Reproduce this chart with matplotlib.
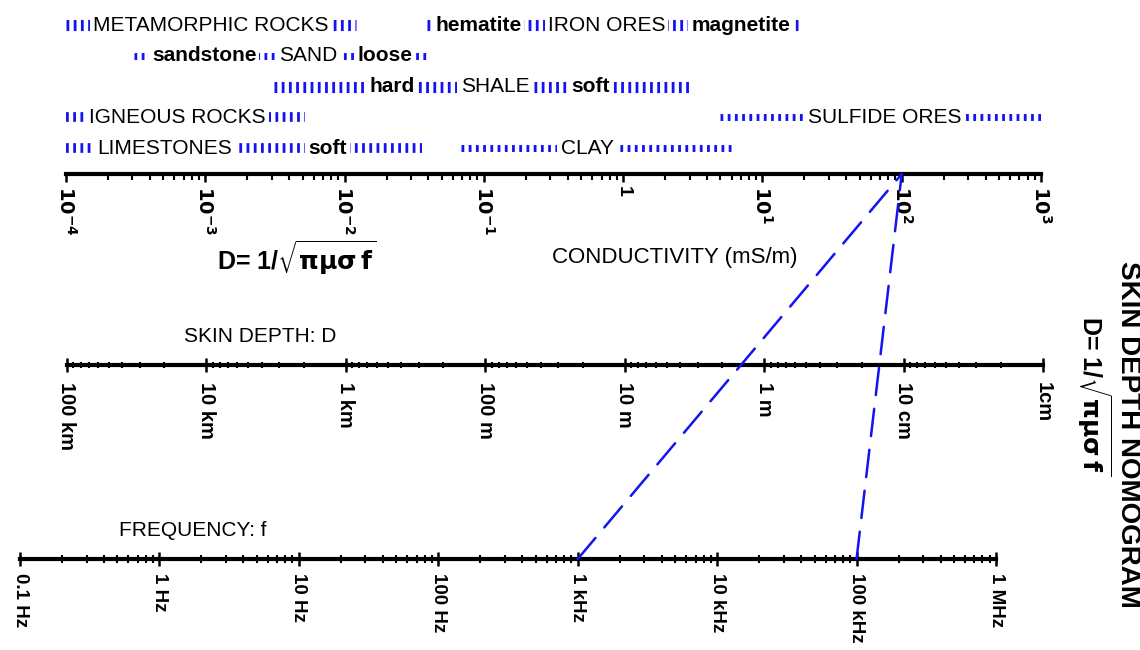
import matplotlib
matplotlib.use("Agg")
import matplotlib.pyplot as plt
from matplotlib.patches import ConnectionPatch
from matplotlib.ticker import LogLocator, NullFormatter

plt.rcParams["font.family"] = ["Liberation Sans", "DejaVu Sans"]
plt.rcParams["mathtext.fontset"] = "dejavusans"

BLUE = "#1414f0"

# conductivity scale, mS/m
cond_ticks = [1e-4, 1e-3, 1e-2, 1e-1, 1, 1e1, 1e2, 1e3]
cond_labels = [r"$\mathbf{10^{-4}}$", r"$\mathbf{10^{-3}}$", r"$\mathbf{10^{-2}}$",
               r"$\mathbf{10^{-1}}$", "1", r"$\mathbf{10^{1}}$", r"$\mathbf{10^{2}}$",
               r"$\mathbf{10^{3}}$"]

# skin depth scale, metres (large on the left)
depth_ticks = [1e5, 1e4, 1e3, 1e2, 1e1, 1, 1e-1, 1e-2]
depth_labels = ["100 km", "10 km", "1 km", "100 m", "10 m", "1 m", "10 cm", "1cm"]

# frequency scale, Hz
freq_ticks = [1e-1, 1, 1e1, 1e2, 1e3, 1e4, 1e5, 1e6]
freq_labels = ["0.1 Hz", "1 Hz", "10 Hz", "100 Hz", "1 kHz", "10 kHz", "100 kHz", "1 MHz"]

# material conductivity ranges (mS/m) and the row each one sits on
band_row = [0, 0, 1, 2, 3, 3, 4, 4]
band_low = [1e-4, 3.9e-2, 3.1e-4, 3.1e-3, 1e-4, 5.0, 1e-4, 6.8e-2]
band_high = [1.2e-2, 18.0, 4.0e-2, 3.0, 5.2e-3, 1e3, 3.6e-2, 6.1]
band_names = [["METAMORPHIC ROCKS"], ["hematite", "IRON ORES", "magnetite"],
              ["sandstone", "SAND", "loose"], ["hard", "SHALE", "soft"],
              ["IGNEOUS ROCKS"], ["SULFIDE ORES"], ["LIMESTONES", "soft"], ["CLAY"]]
band_name_at = [[1.1e-3], [9.1e-2, 0.76, 7.0], [9.8e-4, 5.5e-3, 1.96e-2],
                [2.2e-2, 0.12, 0.58], [6.3e-4], [76.0], [5.1e-4, 7.5e-3], [0.55]]

# worked examples: frequency (Hz) joined to conductivity (mS/m)
ex_freq = [1e3, 1e5]
ex_cond = [1e2, 1e2]

W, H = 1140, 650
fig = plt.figure(figsize=(W / 100, H / 100), dpi=100)


def scale_axis(x0, x1, y_line, lims, ticks, labels, direction, major_len, minor_len,
               label_size, pad):
    ax = fig.add_axes([x0 / W, 1 - y_line / H, (x1 - x0) / W, 0.02])
    ax.set_xscale("log")
    ax.set_xlim(*lims)
    ax.set_ylim(0, 1)
    for side in ("top", "left", "right"):
        ax.spines[side].set_visible(False)
    ax.spines["bottom"].set_linewidth(3)
    ax.patch.set_visible(False)
    ax.yaxis.set_visible(False)
    ax.set_xticks(ticks, labels, fontweight="bold", fontsize=label_size,
                  rotation=-90, ha="center", va="top")
    ax.xaxis.set_minor_locator(LogLocator(base=10, subs=range(2, 10), numticks=60))
    ax.xaxis.set_minor_formatter(NullFormatter())
    ax.tick_params(axis="x", which="major", direction=direction, length=major_len,
                   width=1.8, pad=pad)
    ax.tick_params(axis="x", which="minor", direction=direction, length=minor_len,
                   width=1.5)
    return ax


ax_c = scale_axis(66, 1041, 174, (1e-4, 1e3), cond_ticks, cond_labels,
                  "out", 6, 4, 14, 3)
ax_d = scale_axis(67, 1043, 365, (1e5, 1e-2), depth_ticks, depth_labels,
                  "inout", 10, 5, 14.5, 7)
ax_f = scale_axis(20, 996, 559, (1e-1, 1e6), freq_ticks, freq_labels,
                  "inout", 10, 6, 13.5, 5)

# material bands above the conductivity scale
ax_r = fig.add_axes([66 / W, 1 - 170 / H, 975 / W, 170 / H])
ax_r.set_xscale("log")
ax_r.set_xlim(1e-4, 1e3)
ax_r.set_ylim(4.715, -0.813)
ax_r.axis("off")

bar_lw = [8, 8, 5, 8, 7, 5, 7, 5]
for i in range(len(band_row)):
    lw = bar_lw[i]
    ax_r.plot([band_low[i], band_high[i]], [band_row[i], band_row[i]], color=BLUE,
              lw=lw, linestyle=(0, (2.0 / lw, 3.2 / lw)), dash_capstyle="butt")
    for name, at in zip(band_names[i], band_name_at[i]):
        ax_r.text(at, band_row[i], name, ha="center", va="center", fontsize=15,
                  fontweight="bold" if name.islower() else "normal", zorder=3,
                  bbox=dict(boxstyle="square,pad=0.15", fc="white", ec="none"))

# dashed example lines through the nomogram
for f, s in zip(ex_freq, ex_cond):
    con = ConnectionPatch(xyA=(f, 0), coordsA="data", axesA=ax_f,
                          xyB=(s, 0), coordsB="data", axesB=ax_c,
                          color=BLUE, lw=1.8, linestyle=(0, (11, 5.5)))
    fig.add_artist(con)

formula = r"D= 1/$\sqrt{\mathbf{\pi\mu\sigma\,f}}$"
fig.text(297 / W, 1 - 258 / H, formula, fontsize=18, fontweight="bold",
         ha="center", va="center")
fig.text(675 / W, 1 - 258 / H, "CONDUCTIVITY (mS/m)", fontsize=16,
         ha="center", va="center")
fig.text(260 / W, 1 - 336 / H, "SKIN DEPTH: D", fontsize=15, ha="center", va="center")
fig.text(193 / W, 1 - 530 / H, "FREQUENCY: f", fontsize=15, ha="center", va="center")

fig.text(1128 / W, 1 - 434 / H, "SKIN DEPTH NOMOGRAM", fontsize=20, fontweight="bold",
         rotation=-90, ha="center", va="center")
fig.text(1094 / W, 1 - 396 / H, formula, fontsize=18, fontweight="bold",
         rotation=-90, ha="center", va="center")

fig.savefig("out.png", dpi=100)
